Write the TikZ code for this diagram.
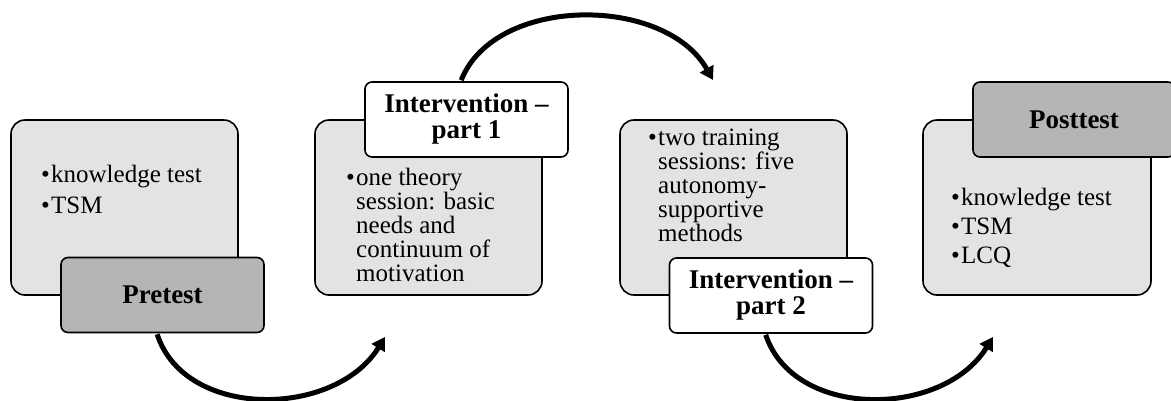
\documentclass[tikz,border=0pt]{standalone}
\usepackage{fontspec}
\setmainfont{Liberation Serif}
\usetikzlibrary{arrows.meta,calc}
\definecolor{lightbox}{HTML}{E3E3E3}
\definecolor{darkbox}{HTML}{B5B5B5}
\newcommand{\bitem}[1]{\par\hangindent=10pt\hangafter=1\noindent\makebox[10pt][l]{\char"2022}#1}
\begin{document}
\begin{tikzpicture}[x=1pt,y=-1pt,
  bigbox/.style={draw=black, line width=1.6pt, fill=lightbox, rounded corners=14pt,
    minimum width=227pt, minimum height=175pt, inner sep=0pt},
  titlebox/.style={draw=black, line width=1.6pt, rounded corners=7pt,
    minimum width=203pt, minimum height=75pt, inner sep=0pt, align=center,
    font=\fontsize{27}{26}\selectfont\bfseries},
  darktitle/.style={titlebox, fill=darkbox},
  whitetitle/.style={titlebox, fill=white},
  bodytext/.style={anchor=base west, inner sep=0pt},
  flow/.style={line width=5pt, -{Triangle[length=13pt,width=15pt]}}
]
\useasboundingbox (0,0) rectangle (1171,400);

% boxes
\node[bigbox] (b1) at (124.5,207.5) {};
\node[darktitle] (pre) at (162.5,295) {Pretest};

\node[bigbox] (b2) at (428.5,207.5) {};
\node[whitetitle] (i1) at (466.5,119.5) {Intervention --\\part 1};

\node[bigbox] (b3) at (733.5,207.5) {};
\node[whitetitle] (i2) at (771,295.5) {Intervention --\\part 2};

\node[bigbox, minimum width=228pt] (b4) at (1037,207.5) {};
\node[darktitle, minimum width=202pt] (post) at (1074,119.5) {Posttest};

% texts
\node[bodytext] (t1) at (41,182) {\parbox[t]{190pt}{\fontsize{25}{31}\selectfont
  \bitem{knowledge test}\bitem{TSM}}};
\node[bodytext] (t2) at (346,185) {\parbox[t]{190pt}{\fontsize{25}{24}\selectfont
  \bitem{one theory\\session: basic\\needs and\\continuum of\\motivation}}};
\node[bodytext] (t3) at (648,145) {\parbox[t]{190pt}{\fontsize{25}{24}\selectfont
  \bitem{two training\\sessions: five\\autonomy-\\supportive\\methods}}};
\node[bodytext] (t4) at (951,205) {\parbox[t]{190pt}{\fontsize{25}{29}\selectfont
  \bitem{knowledge test}\bitem{TSM}\bitem{LCQ}}};

% connectors
\coordinate (a1s) at ($(pre.south west)+(97,1)$);
\coordinate (a1e) at (385,337);
\coordinate (a2s) at ($(i1.north west)+(97,-1)$);
\coordinate (a2e) at (713,80);
\coordinate (a3s) at ($(i2.south west)+(97,1)$);
\coordinate (a3e) at (993,337);

\draw[flow] (a1s) .. controls (185,420) and (335,418) .. (a1e);
\draw[flow] (a2s) .. controls (495,-5) and (665,-5) .. (a2e);
\draw[flow] (a3s) .. controls (794,420) and (943,418) .. (a3e);
\end{tikzpicture}
\end{document}
